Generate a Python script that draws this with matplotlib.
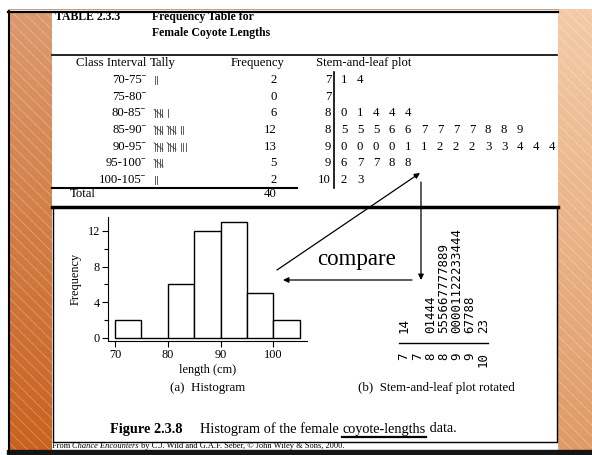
import numpy as np
import matplotlib.pyplot as plt
from matplotlib.colors import LinearSegmentedColormap
from matplotlib.patches import Rectangle

plt.rcParams['font.family'] = ['Liberation Serif', 'DejaVu Serif']
plt.rcParams['hatch.linewidth'] = 0.5

# data
intervals = ['70-75', '75-80', '80-85', '85-90', '90-95', '95-100', '100-105']
freq = [2, 0, 6, 12, 13, 5, 2]
bin_edges = [70, 75, 80, 85, 90, 95, 100, 105]
stems = ['7', '7', '8', '8', '9', '9', '10']
leaves = ['14', '', '01444', '555667777889', '00001122233444', '67788', '23']

W, H = 592, 455
fig = plt.figure(figsize=(W / 100, H / 100), dpi=100)
bg = fig.add_axes([0, 0, 1, 1])
bg.axis('off')

# orange side panels with gradient + white hatching
grad = np.linspace(0, 1, 256).reshape(-1, 1)
lcm = LinearSegmentedColormap.from_list('l', ['#dc9a6e', '#d27d45', '#c9621f'])
rcm = LinearSegmentedColormap.from_list('r', ['#f3cba8', '#eab488', '#df9a66'])
bg.imshow(grad, cmap=lcm, extent=(9, 52, 451, 11), aspect='auto', origin='upper', zorder=0)
bg.imshow(grad, cmap=rcm, extent=(558, 592, 451, 9), aspect='auto', origin='upper', zorder=0)
bg.add_patch(Rectangle((9, 11), 43, 440, fill=False, hatch='\\\\\\',
                       edgecolor=(1, 1, 1, 0.35), lw=0, zorder=1))
bg.add_patch(Rectangle((558, 9), 34, 442, fill=False, hatch='\\\\\\',
                       edgecolor=(1, 1, 1, 0.35), lw=0, zorder=1))
bg.set_xlim(0, W)
bg.set_ylim(H, 0)

# frame lines
bg.add_patch(Rectangle((7, 450), W - 7, 5, color='#151515', zorder=2))
bg.plot([8.5, 8.5], [11, 452], color='k', lw=1.5)
bg.plot([8, 558], [9, 9], color='#b07050', lw=0.5)
bg.plot([8, 558], [11.5, 11.5], color='k', lw=1.6)
bg.plot([52, 557], [55, 55], color='k', lw=1.2)
bg.plot([52, 297], [188, 188], color='k', lw=1.5)
bg.plot([52, 557.5], [207, 207], color='k', lw=2.5)
bg.plot([52.5, 52.5, 557, 557], [207, 442, 442, 207], color='k', lw=1)

# table title
bg.text(55, 17, 'TABLE 2.3.3', weight='bold', size=8.5, va='center')
bg.text(152, 17, 'Frequency Table for', weight='bold', size=8.5, va='center')
bg.text(152, 33, 'Female Coyote Lengths', weight='bold', size=8.5, va='center')

# headers
fs = 9.2
bg.text(76, 63, 'Class Interval', size=fs, va='center')
bg.text(150, 63, 'Tally', size=fs, va='center')
bg.text(285, 63, 'Frequency', size=fs, va='center', ha='right')
bg.text(316, 63, 'Stem-and-leaf plot', size=fs, va='center')

y0, dy = 80, 16.67
for i, (iv, f) in enumerate(zip(intervals, freq)):
    y = y0 + i * dy
    bg.text(146, y, iv + '\u02c9', size=fs, va='center', ha='right')
    bg.text(277, y, str(f), size=fs, va='center', ha='right')
    # tally marks
    x = 155
    left = f
    while left > 0:
        k = min(left, 5)
        nstroke = 4 if k == 5 else k
        for s in range(nstroke):
            bg.plot([x + s * 2.3] * 2, [y - 4, y + 4], color='#444', lw=0.6)
        if k == 5:
            bg.plot([x - 1, x + 8], [y - 4, y + 3], color='#444', lw=0.6)
            x += 13
        else:
            x += nstroke * 2.3
        left -= k

bg.text(70, 194, 'Total', size=fs, va='center')
bg.text(277, 194, str(sum(freq)), size=fs, va='center', ha='right')

# stem-and-leaf plot
for i, (st, lf) in enumerate(zip(stems, leaves)):
    y = y0 + i * dy
    bg.text(331, y, st, size=fs, va='center', ha='right')
    for j, d in enumerate(lf):
        bg.text(344 + 16 * j, y, d, size=fs, va='center', ha='center')
bg.plot([334, 334], [72, 188], color='k', lw=1.2)

# histogram
ax = fig.add_axes([108 / W, 1 - 341 / H, (307 - 108) / W, (341 - 217) / H])
ax.patch.set_alpha(0)
ax.bar(bin_edges[:-1], freq, width=5, align='edge', facecolor='white',
       edgecolor='black', lw=1.0)
ax.set_xlim(68.67, 106.4)
ax.set_ylim(-0.35, 13.56)
for sp in ['top', 'right']:
    ax.spines[sp].set_visible(False)
ax.set_xticks([70, 80, 90, 100])
ax.set_yticks([0, 4, 8, 12])
ax.set_yticks([2, 6, 10], minor=True)
ax.tick_params(length=4, width=0.8, labelsize=8.8, pad=2)
ax.tick_params(which='minor', length=3, width=0.8)
ax.set_xlabel('length (cm)', size=8.8, labelpad=2)
ax.set_ylabel('Frequency', size=8.8, labelpad=4)

# rotated stem-and-leaf
for i, (st, lf) in enumerate(zip(stems, leaves)):
    x = 404 + 13.2 * i
    bg.text(x, 333, lf, rotation=90, ha='center', va='bottom',
            family='DejaVu Sans Mono', size=9)
    bg.text(x, 352, st, rotation=90, ha='center', va='top',
            family='DejaVu Sans Mono', size=9)
bg.plot([399, 488], [343, 343], color='k', lw=1)

bg.text(356, 260, 'compare', ha='center', va='center', size=16.5)

aprops = dict(arrowstyle='-|>', color='k', lw=0.9, mutation_scale=8, shrinkA=0, shrinkB=0)
bg.annotate('', xy=(420, 173), xytext=(277, 270), arrowprops=aprops)
bg.annotate('', xy=(421, 280), xytext=(421, 182), arrowprops=aprops)
bg.annotate('', xy=(283, 280), xytext=(412, 280), arrowprops=aprops)

# captions
bg.text(208, 388, '(a)  Histogram', ha='center', va='center', size=9.3)
bg.text(436, 388, '(b)  Stem-and-leaf plot rotated', ha='center', va='center', size=9.3)

r = fig.canvas.get_renderer()
bg.text(182, 429, 'Figure 2.3.8', ha='right', va='center', weight='bold', size=10.3)
x = 200
for s in ['Histogram of the female ', 'coyote-lengths', ' data.']:
    t = bg.text(x, 429, s, va='center', size=10.3)
    w = t.get_window_extent(r).width
    if s == 'coyote-lengths':
        bg.plot([x, x + w], [437, 437], color='k', lw=1.6)
    x += w

x = 52
for s, st in [('From ', 'normal'), ('Chance Encounters', 'italic'),
              (' by C.J. Wild and G.A.F. Seber, \u00a9 John Wiley & Sons, 2000.', 'normal')]:
    t = bg.text(x, 446.5, s, style=st, size=6, va='center')
    x += t.get_window_extent(r).width

fig.savefig('out.png', dpi=100)
